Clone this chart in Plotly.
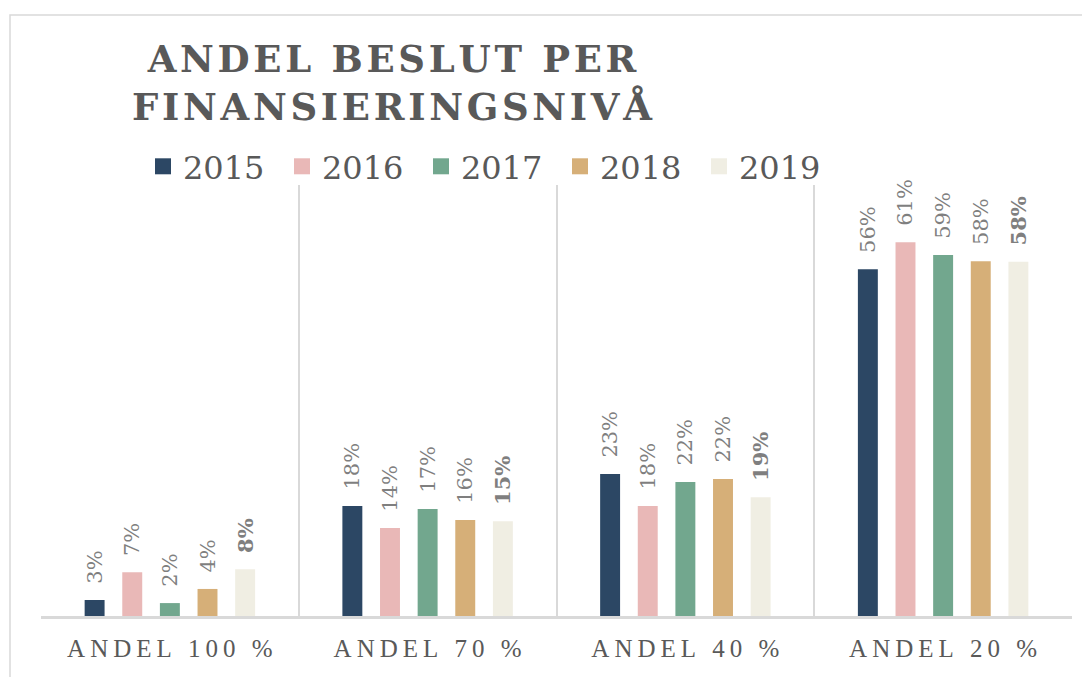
import plotly.graph_objects as go

categories = ["ANDEL 100 %", "ANDEL 70 %", "ANDEL 40 %", "ANDEL 20 %"]
years = ["2015", "2016", "2017", "2018", "2019"]
v2015 = [0.026, 0.179, 0.231, 0.564]
v2016 = [0.071, 0.143, 0.179, 0.608]
v2017 = [0.021, 0.174, 0.218, 0.587]
v2018 = [0.044, 0.156, 0.223, 0.577]
v2019 = [0.076, 0.154, 0.193, 0.576]
series = [v2015, v2016, v2017, v2018, v2019]
colors = ["#2c4764", "#e9b8b7", "#72a78e", "#d6af78", "#f0eee3"]
title_lines = ["ANDEL BESLUT PER", "FINANSIERINGSNIVÅ"]


def spaced(s, sp):
    return sp.join(list(s))


cat_labels = [spaced(c, "\u2009") for c in categories]
title_text = "<b>" + "<br>".join(spaced(t, "\u200a") for t in title_lines) + "</b>"

fig = go.Figure()
for yr, vals, col in zip(years, series, colors):
    bold = yr == "2019"
    tmpl = "\u00a0\u00a0" + ("<b>%{y:.0%}</b>" if bold else "%{y:.0%}")
    fig.add_trace(go.Bar(
        x=cat_labels, y=vals, name=yr, marker_color=col, marker_line_width=0,
        texttemplate=tmpl, textposition="outside", textangle=-90,
        constraintext="none",
        textfont=dict(family="DejaVu Serif", size=21, color="#7f7f7f"),
        cliponaxis=False, showlegend=False, hoverinfo="skip",
    ))
    fig.add_trace(go.Scatter(
        x=[None], y=[None], mode="markers", name=yr,
        marker=dict(symbol="square", size=20, color=col),
        showlegend=True,
    ))

fig.update_layout(
    width=1090, height=677,
    paper_bgcolor="white", plot_bgcolor="white",
    margin=dict(l=33, r=26, t=177, b=69, autoexpand=False),
    barmode="group", bargap=0.27, bargroupgap=0.47,
    uniformtext=dict(mode=False),
    title=dict(
        text=title_text,
        font=dict(family="DejaVu Serif", size=37, color="#595959"),
        x=384 / 1090, xanchor="center", xref="container",
        y=1 - 64 / 677, yanchor="top", yref="container",
    ),
    legend=dict(
        orientation="h", xref="container", yref="container",
        x=135 / 1090, xanchor="left", y=1 - 131 / 677, yanchor="top",
        font=dict(family="DejaVu Serif", size=32, color="#595959"),
        itemsizing="trace", entrywidth=94, entrywidthmode="pixels",
        bgcolor="rgba(0,0,0,0)",
    ),
    xaxis=dict(
        type="category", tickson="boundaries", showgrid=True,
        gridcolor="#d9d9d9", gridwidth=1.5, ticks="", showline=True,
        linecolor="#d9d9d9", linewidth=2.5, ticklabelstandoff=8,
        tickfont=dict(family="Liberation Serif", size=25, color="#595959"),
        range=[-0.5, 3.5],
    ),
    yaxis=dict(range=[0, 0.701], showgrid=False, showticklabels=False,
               zeroline=False, showline=False),
    shapes=[dict(type="rect", xref="paper", yref="paper",
                 x0=-31 / 1031, x1=1.1, y0=-0.5, y1=1 + 170 / 431,
                 line=dict(color="#d9d9d9", width=1.5), layer="below")],
    hovermode=False,
)

fig.write_html("out.html")
